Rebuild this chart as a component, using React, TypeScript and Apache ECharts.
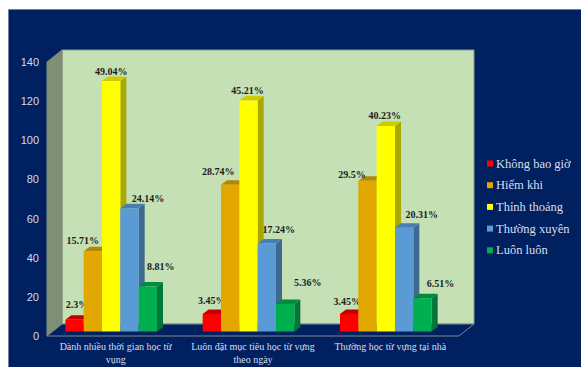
import React, { useEffect, useRef } from "react";
import * as echarts from "echarts";

const categories = [
  "Dành nhiều thời gian học từ\nvụng",
  "Luôn đặt mục tiêu học từ vựng\ntheo ngày",
  "Thường học từ vựng tại nhà",
];
const neverCounts = [6, 9, 9];
const rarelyCounts = [41, 75, 77];
const sometimesCounts = [128, 118, 105];
const oftenCounts = [63, 45, 53];
const alwaysCounts = [23, 14, 17];

const neverLabels = ["2.3%", "3.45%", "3.45%"];
const rarelyLabels = ["15.71%", "28.74%", "29.5%"];
const sometimesLabels = ["49.04%", "45.21%", "40.23%"];
const oftenLabels = ["24.14%", "17.24%", "20.31%"];
const alwaysLabels = ["8.81%", "5.36%", "6.51%"];

// Hand-placed label offsets from the top centre of each bar's front face.
const neverNudge = [[2.5, -15], [0, -13], [-2, -12]];
const rarelyNudge = [[-10, -11], [-12, -13.5], [-15.6, -6]];
const sometimesNudge = [[0, -9.5], [-1, -10], [-1, -10.5]];
const oftenNudge = [[18.5, -10], [12, -14], [17.7, -13.6]];
const alwaysNudge = [[13, -20], [22.6, -21.6], [18, -14.7]];

const levels = [
  { name: "Không bao giờ", values: neverCounts, labels: neverLabels, nudge: neverNudge, front: "#ff0000", side: "#a60000", top: "#c40000" },
  { name: "Hiếm khi", values: rarelyCounts, labels: rarelyLabels, nudge: rarelyNudge, front: "#e2a700", side: "#a37a00", top: "#b58700" },
  { name: "Thỉnh thoảng", values: sometimesCounts, labels: sometimesLabels, nudge: sometimesNudge, front: "#ffff00", side: "#a8a800", top: "#cccc00" },
  { name: "Thường xuyên", values: oftenCounts, labels: oftenLabels, nudge: oftenNudge, front: "#5b9bd5", side: "#3d6a92", top: "#4a7eae" },
  { name: "Luôn luôn", values: alwaysCounts, labels: alwaysLabels, nudge: alwaysNudge, front: "#00b050", side: "#00763a", top: "#008a40" },
];

const SERIF = '"Liberation Serif", "Times New Roman", serif';
const NAVY = "#002060";
const DEPTH_X = 15;
const DEPTH_Y = 12;
const BAR_DEPTH_X = 6;
const BAR_DEPTH_Y = 4.5;
const EDGE = "#7f8790";

// Back wall, side wall and floor of the 3D plot box.
function renderBox(params: any) {
  const { x, y, width, height } = params.coordSys;
  const bottom = y + height;
  const right = x + width;
  return {
    type: "group",
    children: [
      {
        type: "polygon",
        shape: { points: [[x + DEPTH_X, y - DEPTH_Y], [right + DEPTH_X, y - DEPTH_Y], [right + DEPTH_X, bottom - DEPTH_Y], [x + DEPTH_X, bottom - DEPTH_Y]] },
        style: { fill: "#c5e0b4", stroke: "#8f9c88", lineWidth: 1 },
      },
      {
        type: "polygon",
        shape: { points: [[x, y], [x + DEPTH_X, y - DEPTH_Y], [x + DEPTH_X, bottom - DEPTH_Y], [x, bottom]] },
        style: { fill: "#7f8f76", stroke: "#7f8f76", lineWidth: 1 },
      },
      {
        type: "polygon",
        shape: { points: [[x, bottom], [x + DEPTH_X, bottom - DEPTH_Y], [right + DEPTH_X, bottom - DEPTH_Y], [right, bottom]] },
        style: { fill: NAVY, stroke: EDGE, lineWidth: 1 },
      },
    ],
  };
}

// One frequency level: a front face, a side face, a top face and its percentage text.
function makeBarRenderer(levelIndex: number) {
  const level = levels[levelIndex];
  return (params: any, api: any) => {
    const i = api.value(0);
    const band = api.size([1, 0])[0];
    const w = band * 0.1335;
    const [cx, topY] = api.coord([i, api.value(1)]);
    const [, baseRaw] = api.coord([i, 0]);
    const base = baseRaw - BAR_DEPTH_Y;
    const top = topY - BAR_DEPTH_Y;
    const left = cx - 4.5 + (levelIndex - 2.5) * w;
    const r = left + w;
    const centre = left + w / 2;
    const [nx, ny] = level.nudge[params.dataIndex];
    return {
      type: "group",
      children: [
        {
          type: "polygon",
          shape: { points: [[r, top], [r + BAR_DEPTH_X, top - BAR_DEPTH_Y], [r + BAR_DEPTH_X, base - BAR_DEPTH_Y], [r, base]] },
          style: { fill: level.side },
        },
        {
          type: "polygon",
          shape: { points: [[left, top], [left + BAR_DEPTH_X, top - BAR_DEPTH_Y], [r + BAR_DEPTH_X, top - BAR_DEPTH_Y], [r, top]] },
          style: { fill: level.top },
        },
        { type: "rect", shape: { x: left, y: top, width: w, height: base - top }, style: { fill: level.front } },
        {
          type: "text",
          x: centre + nx,
          y: top + ny,
          z2: 50,
          style: {
            text: level.labels[params.dataIndex],
            fill: "#1c1c1c",
            font: `bold 10px ${SERIF}`,
            textAlign: "center",
            textVerticalAlign: "middle",
          },
        },
      ],
    };
  };
}

export default function App() {
  const ref = useRef<HTMLDivElement>(null);

  useEffect(() => {
    document.body.style.margin = "0";
    const chart = echarts.init(ref.current!, undefined, { renderer: "svg" });
    chart.setOption({
      animation: false,
      backgroundColor: "#ffffff",
      graphic: [
        {
          type: "rect",
          z: -10,
          silent: true,
          shape: { x: 8.5, y: 9.5, width: 580, height: 365 },
          style: { fill: NAVY, stroke: "#6f7f9f", lineWidth: 1 },
        },
      ],
      grid: { left: 47, top: 62, right: 122, bottom: 31, containLabel: false, outerBoundsMode: "none" },
      legend: {
        orient: "vertical",
        left: 482,
        top: 152,
        itemWidth: 6,
        itemHeight: 6,
        itemGap: 8.7,
        icon: "rect",
        data: levels.map((l) => l.name),
        textStyle: { color: "#d8dfee", fontFamily: SERIF, fontSize: 12.5, padding: [0, 0, 0, -2] },
      },
      xAxis: {
        type: "category",
        data: categories,
        axisLine: { show: false },
        axisTick: { show: false },
        axisLabel: { color: "#d8dfee", fontFamily: SERIF, fontSize: 10, margin: 4, lineHeight: 13, interval: 0 },
      },
      yAxis: {
        type: "value",
        min: 0,
        max: 140,
        interval: 20,
        axisLine: { show: false },
        axisTick: { show: false },
        splitLine: { show: false },
        axisLabel: { color: "#d3dbea", fontFamily: '"Liberation Sans", Arial, sans-serif', fontSize: 11, margin: 8 },
      },
      series: [
        {
          type: "custom",
          name: "box",
          silent: true,
          z: 1,
          clip: false,
          renderItem: renderBox,
          data: [[0, 0]],
          encode: { x: 0, y: 1 },
        },
        ...levels.map((level, idx) => ({
          type: "custom",
          name: level.name,
          z: 2 + idx,
          clip: false,
          itemStyle: { color: level.front },
          renderItem: makeBarRenderer(idx),
          data: level.values.map((v, i) => [i, v]),
          encode: { x: 0, y: 1 },
        })),
      ],
    });
    return () => chart.dispose();
  }, []);

  return <div ref={ref} style={{ width: 581, height: 367 }} />;
}
